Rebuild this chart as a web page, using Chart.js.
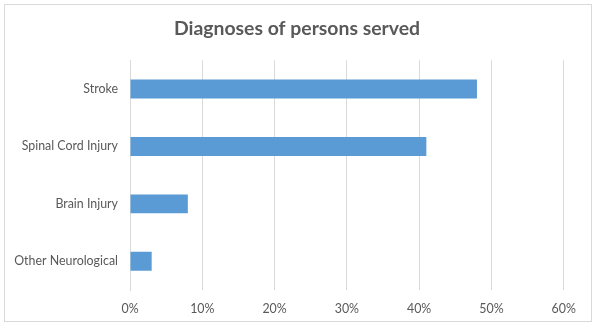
<!DOCTYPE html>
<html>
<head>
<meta charset="utf-8">
<script src="https://cdn.jsdelivr.net/npm/chart.js@4"></script>
<style>
  body { margin: 0; background: #fff; }
  #box { position: absolute; left: 4px; top: 4px; width: 586px; height: 316px; border: 1px solid #d9d9d9; }
</style>
</head>
<body>
<div id="box"><canvas id="diagnosticos" width="586" height="316"></canvas></div>
<script>
// diagnosticos dos atendidos (percentual)
const categorias = ['Stroke', 'Spinal Cord Injury', 'Brain Injury', 'Other Neurological'];
const percentuais = [48, 41, 8, 3];
const marcas_x = [0, 10, 20, 30, 40, 50, 60];

const cinza = '#595959';
const linha = '#d9d9d9';

document.addEventListener("DOMContentLoaded", function () {
    const ctx = document.getElementById('diagnosticos').getContext('2d');
    new Chart(ctx, {
        type: 'bar',
        data: {
            labels: categorias,
            datasets: [{
                label: 'Diagnoses',
                data: percentuais,
                backgroundColor: '#5b9bd5',
                borderColor: '#5b9bd5',
                borderWidth: 0,
                categoryPercentage: 1,
                barPercentage: 0.33
            }]
        },
        options: {
            indexAxis: 'y',
            responsive: false,
            animation: false,
            layout: { padding: { left: 0, right: 2, top: 0, bottom: 0 } },
            plugins: {
                legend: { display: false },
                tooltip: { enabled: false },
                title: {
                    display: true,
                    text: 'Diagnoses of persons served',
                    color: cinza,
                    font: { family: 'Lato', size: 19.4, weight: 'bold' },
                    padding: { top: 12, bottom: 20 }
                }
            },
            scales: {
                x: {
                    min: 0,
                    max: 63.5, // folga a direita depois da ultima linha (60%)
                    afterBuildTicks: (scale) => { scale.ticks = marcas_x.map(v => ({ value: v })); },
                    afterFit: (scale) => { scale.height = 31; },
                    grid: { color: linha, drawTicks: false },
                    border: { display: false },
                    ticks: {
                        color: cinza,
                        padding: 12,
                        font: { family: 'Lato', size: 12.4 },
                        callback: (v) => v + '%'
                    }
                },
                y: {
                    afterFit: (scale) => { scale.width = 125; },
                    grid: { display: false, drawTicks: false },
                    border: { display: true, color: linha },
                    ticks: {
                        color: cinza,
                        padding: 12,
                        font: { family: 'Lato', size: 12.4 }
                    }
                }
            }
        }
    });
});
</script>
</body>
</html>
